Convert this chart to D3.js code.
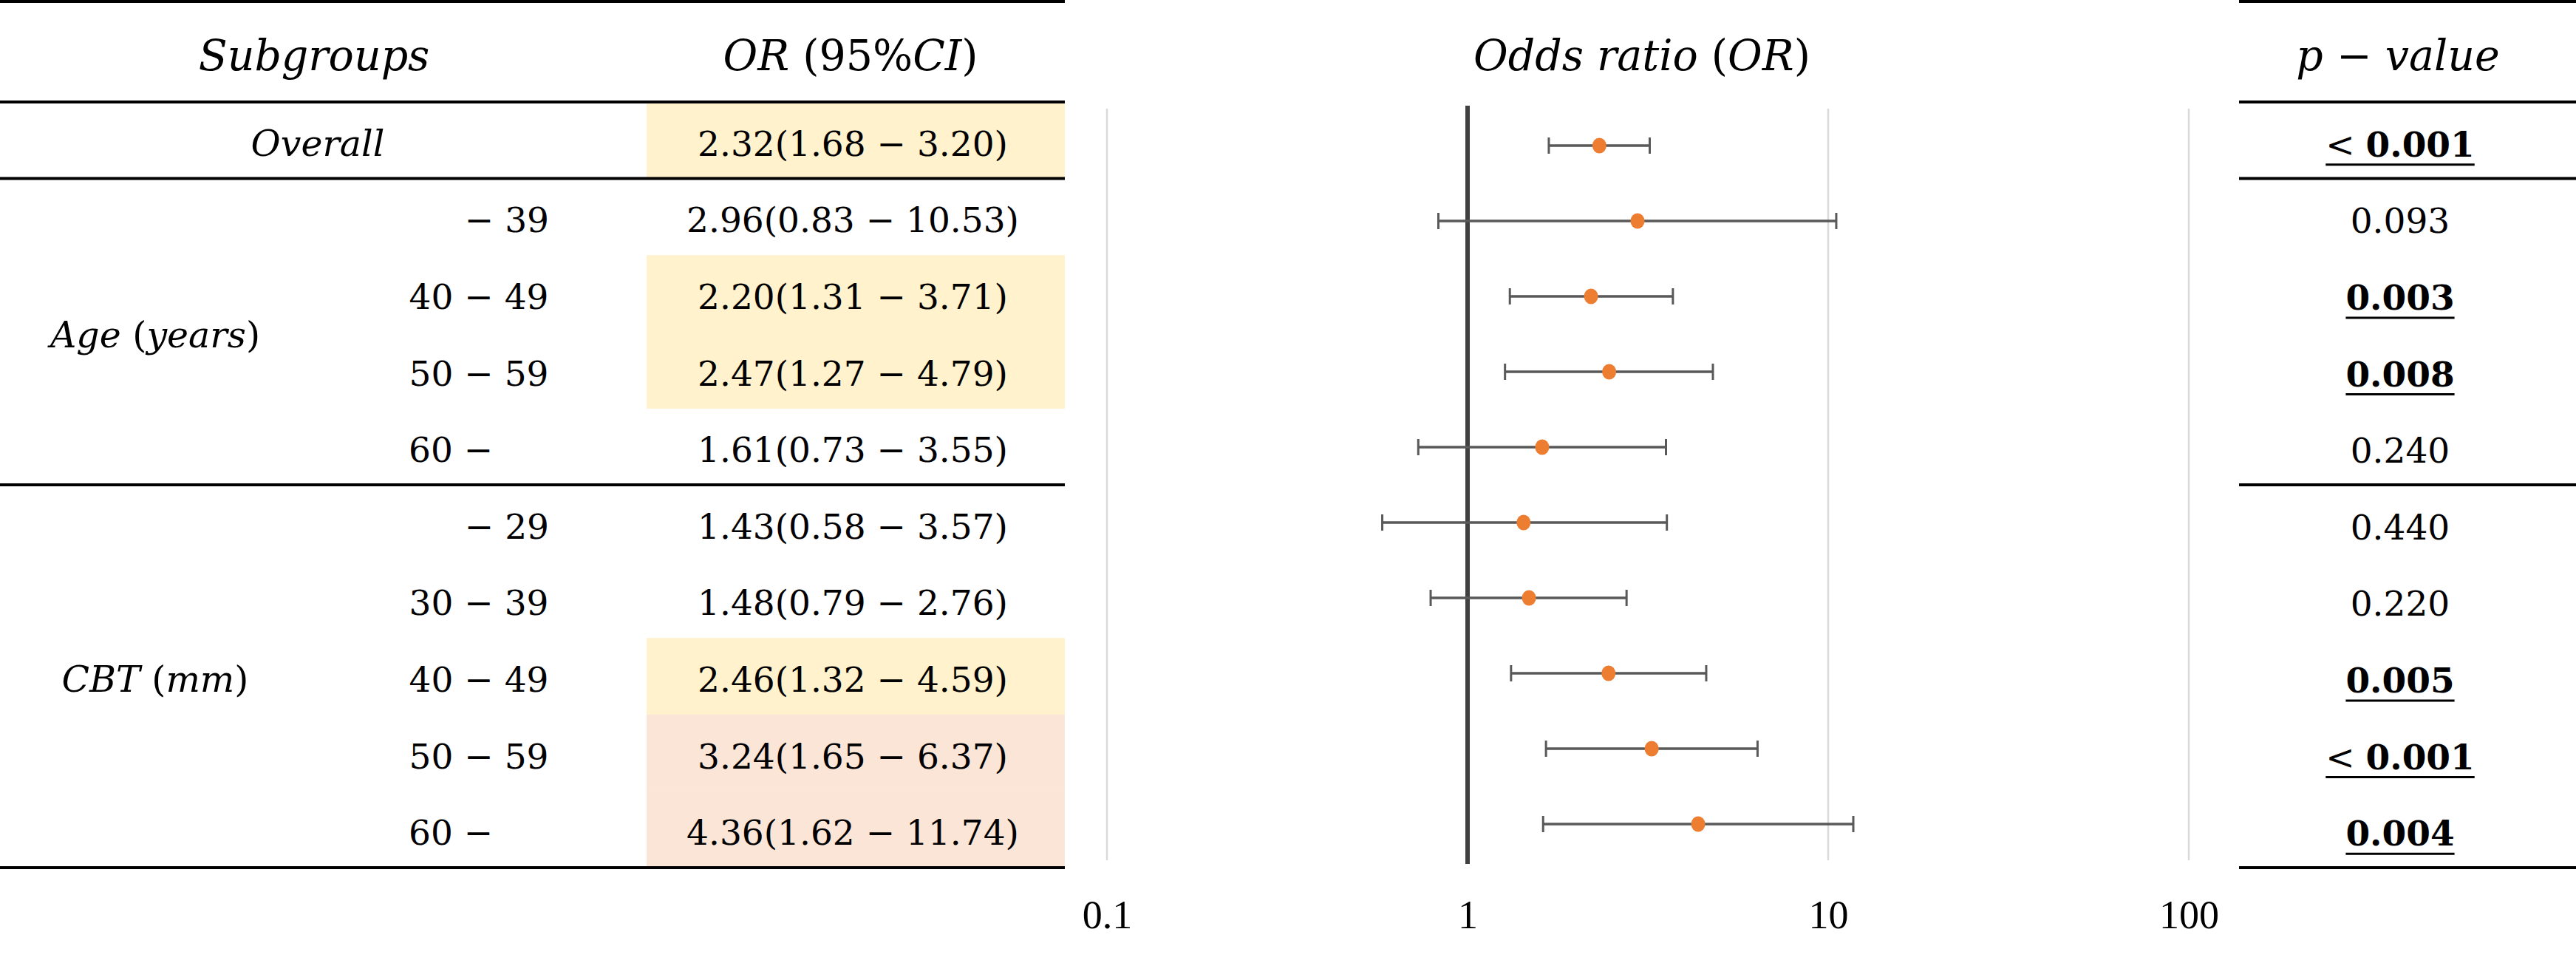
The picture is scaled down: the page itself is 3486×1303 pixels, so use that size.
<!DOCTYPE html>
<html>
<head>
<meta charset="utf-8">
<script src="https://cdn.jsdelivr.net/npm/d3@7/dist/d3.min.js"></script>
<style>
  html, body { margin: 0; padding: 0; background: #ffffff; }
  svg { display: block; }
</style>
</head>
<body>
<svg id="chart" width="3486" height="1303"></svg>
<script>
// ---------------- DATA ----------------
const subgroupLabels = ["Overall", "− 39", "40 − 49", "50 − 59", "60 −", "− 29", "30 − 39", "40 − 49", "50 − 59", "60 −"];
const groupNames = ["", "Age (years)", "CBT (mm)"];
const groupOfRow = [0, 1, 1, 1, 1, 2, 2, 2, 2, 2];
const orValues = [2.32, 2.96, 2.20, 2.47, 1.61, 1.43, 1.48, 2.46, 3.24, 4.36];
const ciLower  = [1.68, 0.83, 1.31, 1.27, 0.73, 0.58, 0.79, 1.32, 1.65, 1.62];
const ciUpper  = [3.20, 10.53, 3.71, 4.79, 3.55, 3.57, 2.76, 4.59, 6.37, 11.74];
const pValues  = ["< 0.001", "0.093", "0.003", "0.008", "0.240", "0.440", "0.220", "0.005", "< 0.001", "0.004"];
const pSignificant = [true, false, true, true, false, false, false, true, true, true];
const cellShade = ["yellow", "", "yellow", "yellow", "", "", "", "yellow", "pink", "pink"];
const headers = ["Subgroups", "OR (95%CI)", "Odds ratio (OR)", "p − value"];
const tickValues = [0.1, 1, 10, 100];
const tickLabels = ["0.1", "1", "10", "100"];

// ---------------- STYLE ----------------
const W = 3486, H = 1303;
const serif = "'DejaVu Serif', serif";
const timesLike = "'Liberation Serif', 'Times New Roman', serif";
const shadeColor = { yellow: "#FFF2CC", pink: "#FBE5D6" };
const orange = "#ED7D31";
const whisker = "#595959";

const svg = d3.select("#chart");
svg.append("rect").attr("width", W).attr("height", H).attr("fill", "#fff");

const n = orValues.length;
const rows = d3.range(n);

const yTable = d3.scaleBand().domain(rows).range([138, 1174]).padding(0);
const yPlot = d3.scaleBand().domain(rows).range([146, 1166]).padding(0);
const x = d3.scaleLog().domain([0.1, 100]).range([1498, 2962]);

const leftTable = { x0: 0, x1: 1441 };
const rightTable = { x0: 3030, x1: 3486 };
const shadeX0 = 875;
const orCenterX = 1154;
const subCenterX = 648;
const subLeftX = 553, subRightX = 743;
const groupX = 210;
const overallX = 430;
const pCenterX = 3248;

// math-style text: letters italic, digits/punctuation upright
function mathText(sel, str) {
  const runs = str.match(/[A-Za-z]+|[^A-Za-z]+/g) || [];
  runs.forEach(r => {
    sel.append("tspan")
      .attr("font-style", /[A-Za-z]/.test(r) ? "italic" : "normal")
      .text(r);
  });
}

// ---------- shaded cells ----------
svg.append("g").selectAll("rect")
  .data(rows.filter(i => cellShade[i]))
  .join("rect")
  .attr("x", shadeX0)
  .attr("y", i => yTable(i))
  .attr("width", leftTable.x1 - shadeX0)
  .attr("height", yTable.bandwidth() + 0.5)
  .attr("fill", i => shadeColor[cellShade[i]]);

// ---------- headers ----------
const headerBaseline = 95;
const headerX = [425, 1151, 2222, 3245];
svg.append("g").selectAll("text")
  .data(headers)
  .join("text")
  .attr("x", (d, i) => headerX[i])
  .attr("y", headerBaseline)
  .attr("text-anchor", "middle")
  .attr("font-family", serif)
  .attr("font-size", 57)
  .attr("fill", "#000")
  .each(function (d) { mathText(d3.select(this), d); });

// ---------- table lines ----------
const lineYs = [2, yTable.range()[0], yTable(1), yTable(5), yTable.range()[1]];
[leftTable, rightTable].forEach(t => {
  svg.append("g").selectAll("line")
    .data(lineYs)
    .join("line")
    .attr("x1", t.x0).attr("x2", t.x1)
    .attr("y1", d => d).attr("y2", d => d)
    .attr("stroke", "#000")
    .attr("stroke-width", 4);
});

const rowBaseline = i => yTable(i) + yTable.bandwidth() / 2 + 21;

// ---------- subgroup labels ----------
svg.append("g").selectAll("text")
  .data(rows)
  .join("text")
  .attr("x", i => {
    if (i === 0) return overallX;
    const s = subgroupLabels[i];
    if (s.startsWith("−")) return subRightX;
    if (s.endsWith("−")) return subLeftX;
    return subCenterX;
  })
  .attr("y", i => rowBaseline(i))
  .attr("text-anchor", i => {
    if (i === 0) return "middle";
    const s = subgroupLabels[i];
    if (s.startsWith("−")) return "end";
    if (s.endsWith("−")) return "start";
    return "middle";
  })
  .attr("font-family", serif)
  .attr("font-size", i => i === 0 ? 49 : 47)
  .attr("fill", "#000")
  .each(function (i) { mathText(d3.select(this), subgroupLabels[i]); });

// ---------- group labels ----------
const groupIdx = [1, 2];
svg.append("g").selectAll("text")
  .data(groupIdx)
  .join("text")
  .attr("x", groupX)
  .attr("y", g => {
    const members = rows.filter(i => groupOfRow[i] === g);
    const top = yTable(members[0]);
    const bot = yTable(members[members.length - 1]) + yTable.bandwidth();
    return (top + bot) / 2 + 21;
  })
  .attr("text-anchor", "middle")
  .attr("font-family", serif)
  .attr("font-size", 49)
  .attr("fill", "#000")
  .each(function (g) { mathText(d3.select(this), groupNames[g]); });

// ---------- OR (95% CI) text ----------
const f2 = d3.format(".2f");
svg.append("g").selectAll("text")
  .data(rows)
  .join("text")
  .attr("x", orCenterX)
  .attr("y", i => rowBaseline(i))
  .attr("text-anchor", "middle")
  .attr("font-family", serif)
  .attr("font-size", 47)
  .attr("fill", "#000")
  .text(i => `${f2(orValues[i])}(${f2(ciLower[i])} − ${f2(ciUpper[i])})`);

// ---------- p-values ----------
const pg = svg.append("g");
rows.forEach(i => {
  const t = pg.append("text")
    .attr("x", pCenterX)
    .attr("y", rowBaseline(i) + 1)
    .attr("text-anchor", "middle")
    .attr("font-family", serif)
    .attr("font-size", 47)
    .attr("fill", "#000");
  const s = pValues[i];
  if (s.startsWith("<")) {
    t.append("tspan").attr("font-weight", "normal").text("< ");
    t.append("tspan").attr("font-weight", pSignificant[i] ? "bold" : "normal").text(s.slice(2));
  } else {
    t.attr("font-weight", pSignificant[i] ? "bold" : "normal").text(s);
  }
  if (pSignificant[i]) {
    const bb = t.node().getBBox();
    pg.append("line")
      .attr("x1", bb.x).attr("x2", bb.x + bb.width)
      .attr("y1", rowBaseline(i) + 12).attr("y2", rowBaseline(i) + 12)
      .attr("stroke", "#000").attr("stroke-width", 3);
  }
});

// ---------- forest plot ----------
const plotTop = yPlot.range()[0] + 1, plotBot = yPlot.range()[1] - 2;
svg.append("g").selectAll("line")
  .data(tickValues.filter(v => v !== 1))
  .join("line")
  .attr("x1", d => x(d)).attr("x2", d => x(d))
  .attr("y1", plotTop).attr("y2", plotBot)
  .attr("stroke", "#D9D9D9")
  .attr("stroke-width", 2.5);

svg.append("line")
  .attr("x1", x(1)).attr("x2", x(1))
  .attr("y1", plotTop - 4).attr("y2", plotBot + 5)
  .attr("stroke", "#404040")
  .attr("stroke-width", 6);

const cy = i => yPlot(i) + yPlot.bandwidth() / 2;
const eg = svg.append("g");
eg.selectAll("line.ci")
  .data(rows)
  .join("line")
  .attr("class", "ci")
  .attr("x1", i => x(ciLower[i])).attr("x2", i => x(ciUpper[i]))
  .attr("y1", cy).attr("y2", cy)
  .attr("stroke", whisker).attr("stroke-width", 3.5);
const capH = 11;
eg.selectAll("line.capL")
  .data(rows)
  .join("line")
  .attr("class", "capL")
  .attr("x1", i => x(ciLower[i])).attr("x2", i => x(ciLower[i]))
  .attr("y1", i => cy(i) - capH).attr("y2", i => cy(i) + capH)
  .attr("stroke", whisker).attr("stroke-width", 3);
eg.selectAll("line.capR")
  .data(rows)
  .join("line")
  .attr("class", "capR")
  .attr("x1", i => x(ciUpper[i])).attr("x2", i => x(ciUpper[i]))
  .attr("y1", i => cy(i) - capH).attr("y2", i => cy(i) + capH)
  .attr("stroke", whisker).attr("stroke-width", 3);
eg.selectAll("ellipse")
  .data(rows)
  .join("ellipse")
  .attr("cx", i => x(orValues[i]))
  .attr("cy", cy)
  .attr("rx", 9.5).attr("ry", 10.5)
  .attr("fill", orange);

// ---------- x axis ----------
const axis = d3.axisBottom(x)
  .tickValues(tickValues)
  .tickFormat((d, i) => tickLabels[i])
  .tickSize(0)
  .tickPadding(0);
const ag = svg.append("g")
  .attr("transform", "translate(0,1218)")
  .call(axis);
ag.select(".domain").remove();
ag.selectAll("text")
  .attr("font-family", timesLike)
  .attr("font-size", 54)
  .attr("fill", "#000");
</script>
</body>
</html>
